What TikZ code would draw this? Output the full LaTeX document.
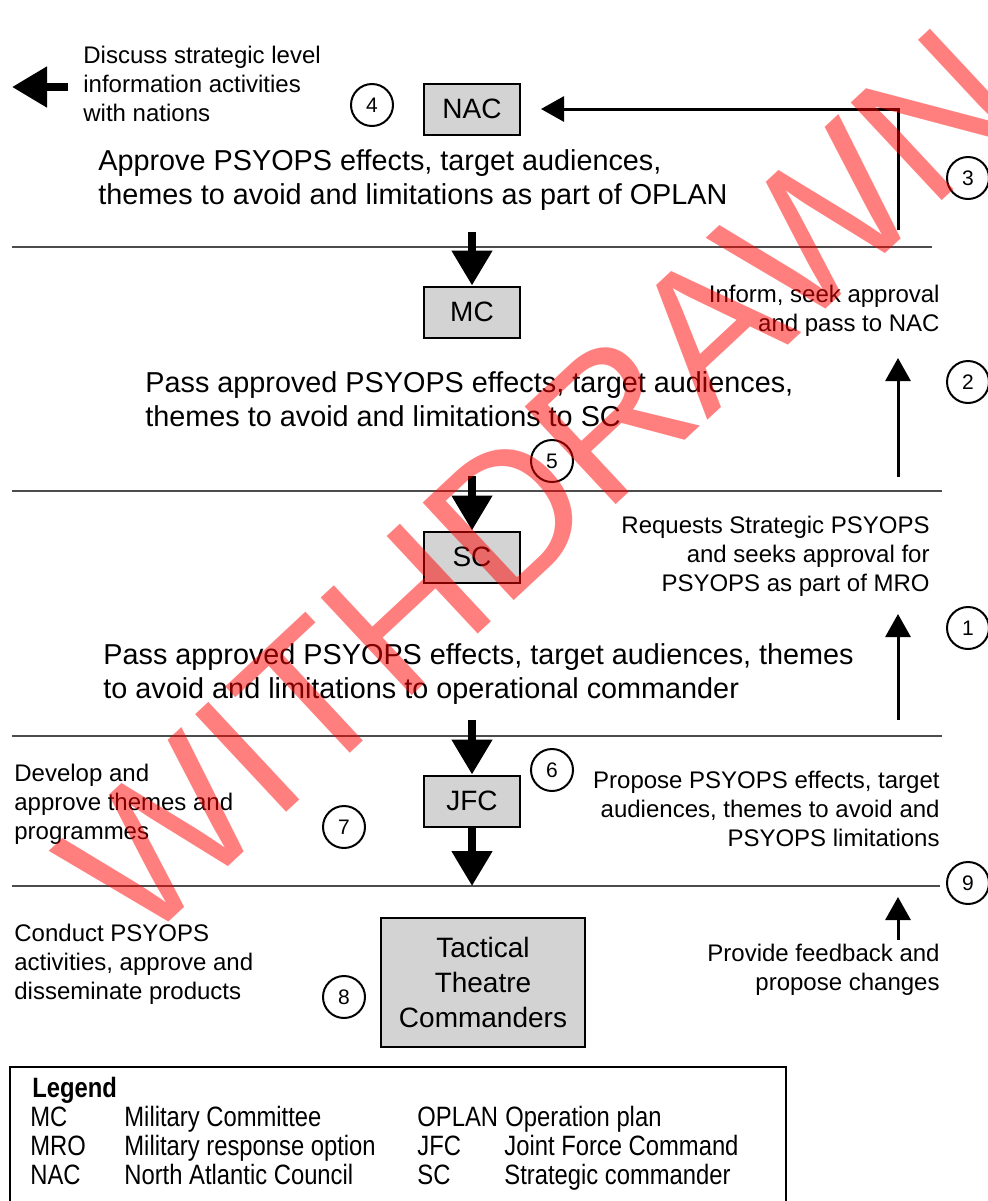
\documentclass[tikz,border=0pt]{standalone}
\usepackage{fontspec}
\setmainfont{Liberation Sans}
\newfontfamily\narrowfont[FakeStretch=0.85]{Liberation Sans}
\usepackage{tikz}
\usetikzlibrary{arrows.meta,positioning}
\definecolor{boxgray}{RGB}{211,211,211}

\begin{document}
\begin{tikzpicture}[x=0.5pt,y=-0.5pt]
	\tikzset{
		org/.style={draw,line width=1pt,fill=boxgray,minimum width=48pt,minimum height=25.5pt,inner sep=0pt,font=\fontsize{14}{17.5}\selectfont},
		num/.style={circle,draw,line width=1pt,minimum size=21pt,inner sep=0pt,font=\fontsize{10.5}{12}\selectfont},
		note/.style={inner sep=0pt,font=\fontsize{12}{14.5}\selectfont},
		bignote/.style={inner sep=0pt,font=\fontsize{14.4}{17}\selectfont},
		key/.style={inner sep=0pt,anchor=base west,font=\narrowfont\fontsize{14}{14.5}\selectfont},
		fatarrow/.style={line width=4pt,-{Triangle[width=19.5pt,length=17.5pt]}},
		linkarrow/.style={line width=1.5pt,-{Triangle[width=12.5pt,length=11.5pt]}},
		sepline/.style={draw=black!70,line width=0.6pt}
	}
	\useasboundingbox (0,0) rectangle (988,1201);

	% levels
	\draw[sepline] (12,247) -- (932,247);
	\draw[sepline] (12,491) -- (942,491);
	\draw[sepline] (12,736) -- (942,736);
	\draw[sepline] (12,886) -- (940,886);

	% commands
	\node[org] (nac) at (472,109) {NAC};
	\node[org] (mc) at (472,312) {MC};
	\node[org] (sc) at (472,557) {SC};
	\node[org] (jfc) at (472,801) {JFC};
	\node[org,minimum width=102pt,minimum height=64.5pt,align=center] (tac) at (483,982) {Tactical\\Theatre\\Commanders};

	% steps
	\node[num] (n1) at (968,628) {1};
	\node[num] (n2) at (968,382) {2};
	\node[num] (n3) at (968,178) {3};
	\node[num] (n4) at (372,105) {4};
	\node[num] (n5) at (552,461) {5};
	\node[num] (n6) at (552,770) {6};
	\node[num] (n7) at (344,827) {7};
	\node[num] (n8) at (344,997) {8};
	\node[num] (n9) at (968,883) {9};

	% texts
	\node[note,anchor=west,align=left] (discuss) at (83,84) {Discuss strategic level\\information activities\\with nations};
	\node[bignote,anchor=west,align=left] (approve) at (98,180) {Approve PSYOPS effects, target audiences,\\themes to avoid and limitations as part of OPLAN};
	\node[note,anchor=east,align=right] (inform) at (940,311) {Inform, seek approval\\and pass to NAC};
	\node[bignote,anchor=west,align=left] (passsc) at (145,399) {Pass approved PSYOPS effects, target audiences,\\themes to avoid and limitations to SC};
	\node[note,anchor=east,align=right] (requests) at (930,556) {Requests Strategic PSYOPS\\and seeks approval for\\PSYOPS as part of MRO};
	\node[bignote,anchor=west,align=left] (passop) at (103,674) {Pass approved PSYOPS effects, target audiences, themes\\to avoid and limitations to operational commander};
	\node[note,anchor=west,align=left] (develop) at (14,804) {Develop and\\approve themes and\\programmes};
	\node[note,anchor=east,align=right] (propose) at (940,809) {Propose PSYOPS effects, target\\audiences, themes to avoid and\\PSYOPS limitations};
	\node[note,anchor=west,align=left] (conduct) at (14,964) {Conduct PSYOPS\\activities, approve and\\disseminate products};
	\node[note,anchor=east,align=right] (feedback) at (940,970) {Provide feedback and\\propose changes};

	% arrow ends
	\coordinate (nationsA) at (68,87);
	\coordinate (nationsB) at (12,87);
	\coordinate (toMC) at (472,232);
	\coordinate (toSC) at (472,476);
	\coordinate (toJFC) at (472,720);
	\coordinate (fromJFC) at (472,886);
	\coordinate (up1) at (898,720);
	\coordinate (up2) at (898,477);
	\coordinate (up3) at (898,230);
	\coordinate (up9) at (898,940);

	\path[fatarrow]
		(nationsA) edge (nationsB)
		(toMC) edge (mc)
		(toSC) edge (sc)
		(toJFC) edge (jfc)
		(jfc) edge (fromJFC);
	\draw[linkarrow] (up1) -- ++(0,-106);
	\draw[linkarrow] (up2) -- ++(0,-119);
	\draw[linkarrow] (up3) |- ([xshift=10pt]nac.east);
	\draw[linkarrow] (up9) -- ++(0,-43);

	% legend
	\draw[line width=0.6pt] (10,1067) rectangle (786,1215);
	\node[key,font=\narrowfont\bfseries\fontsize{14}{14.5}\selectfont] (lg) at (32,1097) {Legend};
	\node[key] (kmc) at (30,1126) {MC};
	\node[key] (kmct) at (124,1126) {Military Committee};
	\node[key] (kmro) at (30,1155) {MRO};
	\node[key] (kmrot) at (124,1155) {Military response option};
	\node[key] (knac) at (30,1184) {NAC};
	\node[key] (knact) at (124,1184) {North Atlantic Council};
	\node[key] (kop) at (417,1126) {OPLAN};
	\node[key] (kopt) at (505,1126) {Operation plan};
	\node[key] (kjfc) at (417,1155) {JFC};
	\node[key] (kjfct) at (504,1155) {Joint Force Command};
	\node[key] (ksc) at (417,1184) {SC};
	\node[key] (ksct) at (504,1184) {Strategic commander};

	% stamp
	\node[rotate=43,text=red,text opacity=0.5,inner sep=0pt,font=\fontsize{97}{97}\selectfont] (stamp) at (541,484) {WITHDRAWN};
\end{tikzpicture}
\end{document}
